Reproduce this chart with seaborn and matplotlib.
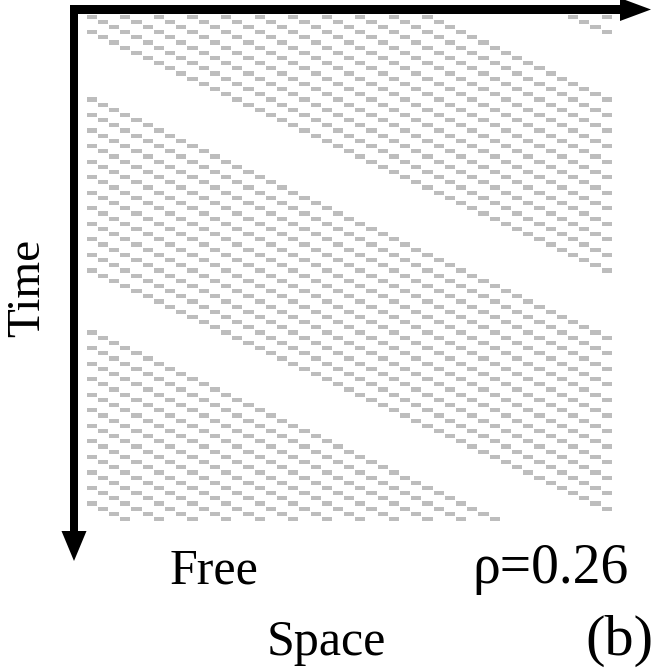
import numpy as np
import pandas as pd
import seaborn as sns
import matplotlib
matplotlib.use("Agg")
import matplotlib.pyplot as plt
from matplotlib.colors import ListedColormap
from matplotlib.patches import Polygon, Rectangle

# ---- data: space-time diagram of a free-flow traffic cellular automaton ----
n_steps = 98          # time steps (rows)
n_cells = 47          # road cells (columns)
# platoons at t=0, given by position of the rearmost car (cells, may be <0 = still upstream)
platoon_rear = [-94, -49, -3, 43]
platoon_cars = [12, 12, 12, 2]
headway = 3           # cells between consecutive cars inside a platoon
speed = 1             # cells per time step

car_pos0 = sorted(r + headway * k for r, n in zip(platoon_rear, platoon_cars) for k in range(n))

rows = []
for t in range(n_steps):
    occ = np.zeros(n_cells, dtype=int)
    for p in car_pos0:
        x = p + speed * t
        if 0 <= x < n_cells:
            occ[x] = 1
    rows.append(occ)
grid = pd.DataFrame(np.array(rows), index=range(n_steps), columns=range(n_cells))

# ---- figure ----
W, H = 665, 671
fig = plt.figure(figsize=(W / 100, H / 100), dpi=100)
sns.set_style("white")

def px_axes(x0, y0, x1, y1):
    return fig.add_axes([x0 / W, 1 - y1 / H, (x1 - x0) / W, (y1 - y0) / H])

ax = px_axes(85.7, 13.5, 611.7, 13.5 + 98 * 5.18)
sns.heatmap(grid, ax=ax, cmap=ListedColormap(["white", "#bdbdbd"]), vmin=0, vmax=1,
            cbar=False, linewidths=0.4, linecolor="white",
            xticklabels=False, yticklabels=False)
for s in ax.spines.values():
    s.set_visible(False)

# overlay for the axis arrows and labels (pixel coordinates)
ov = fig.add_axes([0, 0, 1, 1], zorder=5)
ov.set_xlim(0, W)
ov.set_ylim(H, 0)
ov.axis("off")
ov.patch.set_alpha(0)

ov.add_patch(Rectangle((70, 5), 552, 8.5, color="black", lw=0))
ov.add_patch(Polygon([(620, -2), (620, 21), (651, 9.5)], closed=True, color="black", lw=0))
ov.add_patch(Rectangle((70, 5), 8.3, 528, color="black", lw=0))
ov.add_patch(Polygon([(61.5, 531), (86.5, 531), (74, 561)], closed=True, color="black", lw=0))

font = dict(family="Liberation Serif", color="black")
ov.text(28, 288, "Time", rotation=90, ha="center", va="center", fontsize=34, **font)
ov.text(214, 583, "Free", ha="center", va="baseline", fontsize=36, **font)
ov.text(550, 583, "\u03c1=0.26", ha="center", va="baseline", fontsize=40, **font)
ov.text(326, 655, "Space", ha="center", va="baseline", fontsize=36, **font)
ov.text(619, 655, "(b)", ha="center", va="baseline", fontsize=42, **font)

fig.savefig("out.png", dpi=100)
